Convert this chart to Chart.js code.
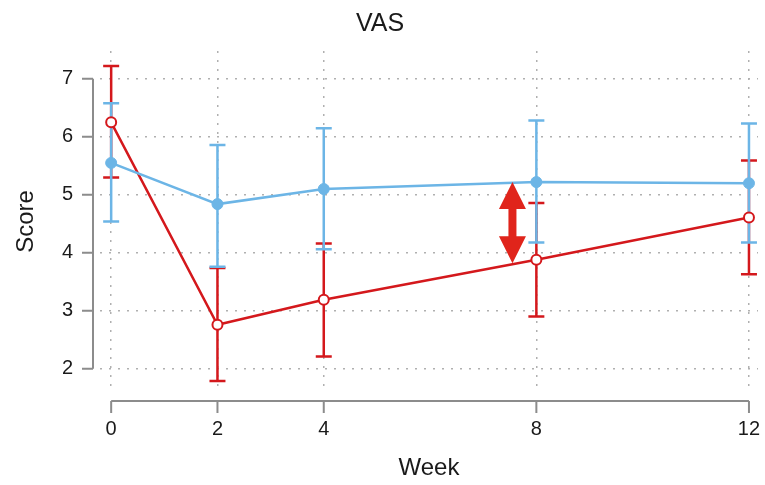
<!DOCTYPE html>
<html>
<head>
<meta charset="utf-8">
<script src="https://cdn.jsdelivr.net/npm/chart.js@4"></script>
<style>
  html, body { margin: 0; padding: 0; background: #fff; }
  #wrap { width: 765px; height: 485px; }
</style>
</head>
<body>
<div id="wrap"><canvas id="vasChart"></canvas></div>
<script>
// ===== VAS score by week =====
var weeks = [0, 2, 4, 8, 12];
var blueMean = [5.55, 4.84, 5.10, 5.22, 5.20];
var blueHi   = [6.58, 5.86, 6.15, 6.28, 6.23];
var blueLo   = [4.54, 3.76, 4.06, 4.18, 4.18];
var redMean  = [6.25, 2.76, 3.19, 3.88, 4.61];
var redHi    = [7.22, 3.74, 4.16, 4.86, 5.59];
var redLo    = [5.30, 1.79, 2.21, 2.90, 3.63];
var yTicks = [2, 3, 4, 5, 6, 7];
// arrow marking the gap at week 8
var arrowAt = [7.55, 5.22, 3.82];

var BLUE = '#6cb5e6', RED = '#d4181c', AXIS = '#8c8c8c', TXT = '#1a1a1a';
var FONT = "'Liberation Sans', Arial, sans-serif";

function pts(xs, ys) { return xs.map(function(x, i) { return { x: x, y: ys[i] }; }); }

// error bars drawn under the lines
var errorBars = {
  id: 'errorBars',
  beforeDatasetsDraw: function(chart) {
    var ctx = chart.ctx, xs = chart.scales.x, ys = chart.scales.y;
    var sets = [[redHi, redLo, RED], [blueHi, blueLo, BLUE]];
    ctx.save();
    ctx.lineWidth = 2.5;
    sets.forEach(function(s) {
      ctx.strokeStyle = s[2];
      weeks.forEach(function(w, i) {
        var px = xs.getPixelForValue(w), hi = ys.getPixelForValue(s[0][i]), lo = ys.getPixelForValue(s[1][i]);
        ctx.beginPath();
        ctx.moveTo(px, hi); ctx.lineTo(px, lo);
        ctx.moveTo(px - 8, hi); ctx.lineTo(px + 8, hi);
        ctx.moveTo(px - 8, lo); ctx.lineTo(px + 8, lo);
        ctx.stroke();
      });
    });
    ctx.restore();
  }
};

// R-style axes: lines only across the tick range
var rAxes = {
  id: 'rAxes',
  afterDraw: function(chart) {
    var ctx = chart.ctx, xs = chart.scales.x, ys = chart.scales.y, ca = chart.chartArea;
    var ax = ca.left - 7, ay = ca.bottom + 9;
    ctx.save();
    ctx.strokeStyle = AXIS; ctx.lineWidth = 2;
    ctx.beginPath();
    ctx.moveTo(ax, ys.getPixelForValue(yTicks[0])); ctx.lineTo(ax, ys.getPixelForValue(yTicks[yTicks.length - 1]));
    yTicks.forEach(function(t) { var p = ys.getPixelForValue(t); ctx.moveTo(ax, p); ctx.lineTo(ax - 11, p); });
    ctx.moveTo(xs.getPixelForValue(weeks[0]), ay); ctx.lineTo(xs.getPixelForValue(weeks[weeks.length - 1]), ay);
    weeks.forEach(function(w) { var p = xs.getPixelForValue(w); ctx.moveTo(p, ay); ctx.lineTo(p, ay + 12); });
    ctx.stroke();

    // double-headed arrow
    var px = xs.getPixelForValue(arrowAt[0]), top = ys.getPixelForValue(arrowAt[1]), bot = ys.getPixelForValue(arrowAt[2]);
    var hw = 13.5, hh = 27, sw = 4;
    ctx.fillStyle = '#e0241b';
    ctx.beginPath();
    ctx.moveTo(px, top);
    ctx.lineTo(px + hw, top + hh); ctx.lineTo(px + sw, top + hh);
    ctx.lineTo(px + sw, bot - hh); ctx.lineTo(px + hw, bot - hh);
    ctx.lineTo(px, bot);
    ctx.lineTo(px - hw, bot - hh); ctx.lineTo(px - sw, bot - hh);
    ctx.lineTo(px - sw, top + hh); ctx.lineTo(px - hw, top + hh);
    ctx.closePath();
    ctx.fill();
    ctx.restore();
  }
};

var gridDots = { color: '#b0b0b0', lineWidth: 1.5, drawTicks: false };

new Chart(document.getElementById('vasChart').getContext('2d'), {
  type: 'line',
  data: { datasets: [
    { label: 'Blue', data: pts(weeks, blueMean), borderColor: BLUE, backgroundColor: BLUE, borderWidth: 2.5,
      pointRadius: 5.5, pointBackgroundColor: BLUE, pointBorderColor: BLUE, pointBorderWidth: 1, tension: 0 },
    { label: 'Red', data: pts(weeks, redMean), borderColor: RED, backgroundColor: '#fff', borderWidth: 2.5,
      pointRadius: 5, pointBackgroundColor: '#fff', pointBorderColor: RED, pointBorderWidth: 2, tension: 0 }
  ]},
  options: {
    responsive: true, maintainAspectRatio: false, animation: false,
    layout: { padding: { left: 0, right: 5, top: 0, bottom: 0 } },
    plugins: {
      legend: { display: false }, tooltip: { enabled: false },
      title: { display: true, text: 'VAS', color: TXT, font: { family: FONT, size: 25, weight: 'normal' }, padding: { top: 9, bottom: 12 } }
    },
    scales: {
      x: { type: 'linear', min: -0.21, max: 12.17,
        afterBuildTicks: function(s) { s.ticks = weeks.map(function(v) { return { value: v }; }); },
        afterFit: function(s) { s.height = 93; s.paddingLeft = 0; s.paddingRight = 0; },
        grid: gridDots, border: { display: false, dash: [2, 7] },
        ticks: { color: TXT, font: { family: FONT, size: 20 }, padding: 25, maxRotation: 0 },
        title: { display: true, text: 'Week', color: TXT, font: { family: FONT, size: 24 }, padding: { top: 0, bottom: 2 } }
      },
      y: { min: 1.6, max: 7.48,
        afterBuildTicks: function(s) { s.ticks = yTicks.map(function(v) { return { value: v }; }); },
        afterFit: function(s) { s.width = 100; s.paddingTop = 0; s.paddingBottom = 0; },
        grid: gridDots, border: { display: false, dash: [2, 7] },
        ticks: { color: TXT, font: { family: FONT, size: 20 }, padding: 27 },
        title: { display: true, text: 'Score', color: TXT, font: { family: FONT, size: 24 }, padding: { top: 12, bottom: 0 } }
      }
    }
  },
  plugins: [errorBars, rAxes]
});
</script>
</body>
</html>
